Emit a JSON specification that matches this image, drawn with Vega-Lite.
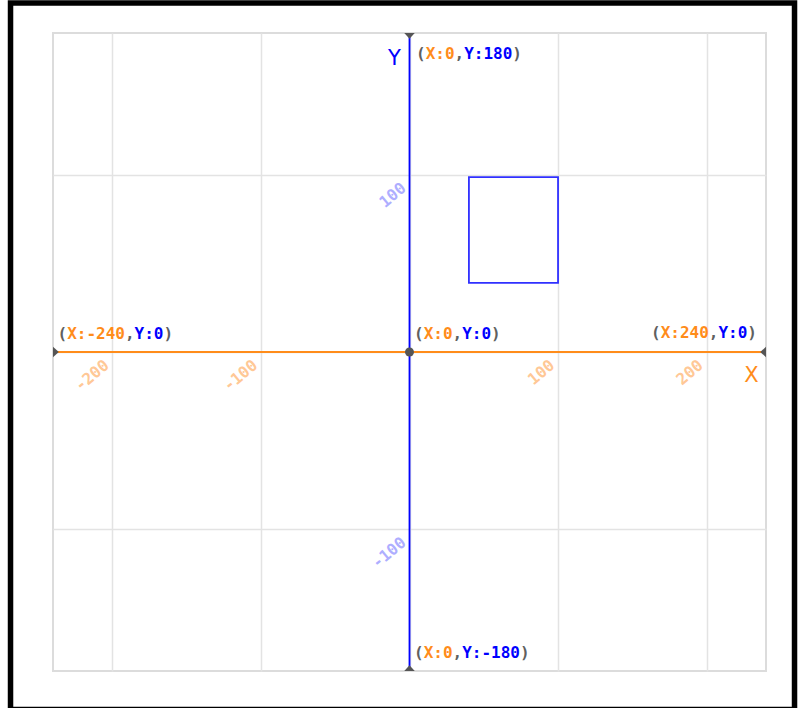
{
  "$schema": "https://vega.github.io/schema/vega-lite/v6.json",
  "width": 713,
  "height": 638,
  "autosize": "none",
  "padding": {"left": 53, "top": 33, "right": 34, "bottom": 37},
  "background": "white",
  "config": {"view": {"stroke": "#dcdcdc", "strokeWidth": 2}},
  "resolve": {"scale": {"color": "independent", "shape": "independent"}},
  "datasets": {
    "frame": [{"x": -268.6, "x2": 259.2, "y": 196.9, "y2": -201.7}],
    "square": [{"x": 40, "x2": 100, "y": 39, "y2": 98.7}],
    "axes": [
      {"axis": "x", "x": -240, "x2": 240, "y": 0, "y2": 0},
      {"axis": "y", "x": 0, "x2": 0, "y": -180, "y2": 180}
    ],
    "ends": [
      {"dir": "top", "x": 0, "y": 180},
      {"dir": "bottom", "x": 0, "y": -180},
      {"dir": "left", "x": -240, "y": 0},
      {"dir": "right", "x": 240, "y": 0}
    ],
    "origin": [{"x": 0, "y": 0}],
    "ticks": [
      {"axis": "x", "x": -200, "y": 0, "label": "-200"},
      {"axis": "x", "x": -100, "y": 0, "label": "-100"},
      {"axis": "x", "x": 100, "y": 0, "label": "100"},
      {"axis": "x", "x": 200, "y": 0, "label": "200"},
      {"axis": "y", "x": 0, "y": 100, "label": "100"},
      {"axis": "y", "x": 0, "y": -100, "label": "-100"}
    ],
    "coords": [
      {"grp": "top", "x": 0, "y": 180, "paren": "\u200b(\u00a0\u00a0\u00a0,\u00a0\u00a0\u00a0\u00a0\u00a0)\u200b", "xs": "\u200b\u00a0X:0\u00a0\u00a0\u00a0\u00a0\u00a0\u00a0\u00a0\u200b", "ys": "\u200b\u00a0\u00a0\u00a0\u00a0\u00a0Y:180\u00a0\u200b"},
      {"grp": "low", "x": 0, "y": 0, "paren": "\u200b(\u00a0\u00a0\u00a0,\u00a0\u00a0\u00a0)\u200b", "xs": "\u200b\u00a0X:0\u00a0\u00a0\u00a0\u00a0\u00a0\u200b", "ys": "\u200b\u00a0\u00a0\u00a0\u00a0\u00a0Y:0\u00a0\u200b"},
      {"grp": "low", "x": -240, "y": 0, "paren": "\u200b(\u00a0\u00a0\u00a0\u00a0\u00a0\u00a0,\u00a0\u00a0\u00a0)\u200b", "xs": "\u200b\u00a0X:-240\u00a0\u00a0\u00a0\u00a0\u00a0\u200b", "ys": "\u200b\u00a0\u00a0\u00a0\u00a0\u00a0\u00a0\u00a0\u00a0Y:0\u00a0\u200b"},
      {"grp": "right", "x": 240, "y": 0, "paren": "\u200b(\u00a0\u00a0\u00a0\u00a0\u00a0,\u00a0\u00a0\u00a0)\u200b", "xs": "\u200b\u00a0X:240\u00a0\u00a0\u00a0\u00a0\u00a0\u200b", "ys": "\u200b\u00a0\u00a0\u00a0\u00a0\u00a0\u00a0\u00a0Y:0\u00a0\u200b"},
      {"grp": "low", "x": 0, "y": -180, "paren": "\u200b(\u00a0\u00a0\u00a0,\u00a0\u00a0\u00a0\u00a0\u00a0\u00a0)\u200b", "xs": "\u200b\u00a0X:0\u00a0\u00a0\u00a0\u00a0\u00a0\u00a0\u00a0\u00a0\u200b", "ys": "\u200b\u00a0\u00a0\u00a0\u00a0\u00a0Y:-180\u00a0\u200b"}
    ],
    "names": [
      {"name": "X", "x": 240, "y": 0},
      {"name": "Y", "x": 0, "y": 180}
    ]
  },
  "layer": [
    {
      "data": {"name": "frame"},
      "mark": {"type": "rect", "fillOpacity": 0, "stroke": "black", "strokeWidth": 5.5},
      "encoding": {
        "x": {"field": "x", "type": "quantitative", "scale": {"domain": [-240, 240], "nice": false, "zero": false},
              "axis": {"values": [-200, -100, 0, 100, 200], "grid": true, "gridColor": "#e3e3e3", "gridWidth": 1.5, "labels": false, "ticks": false, "domain": false, "title": null}},
        "x2": {"field": "x2"},
        "y": {"field": "y", "type": "quantitative", "scale": {"domain": [-180, 180], "nice": false, "zero": false},
              "axis": {"values": [-100, 0, 100], "grid": true, "gridColor": "#e3e3e3", "gridWidth": 1.5, "labels": false, "ticks": false, "domain": false, "title": null}},
        "y2": {"field": "y2"}
      }
    },
    {
      "data": {"name": "square"},
      "mark": {"type": "rect", "fillOpacity": 0, "stroke": "#3030ff", "strokeWidth": 1.8},
      "encoding": {
        "x": {"field": "x", "type": "quantitative"},
        "x2": {"field": "x2"},
        "y": {"field": "y", "type": "quantitative"},
        "y2": {"field": "y2"}
      }
    },
    {
      "data": {"name": "axes"},
      "mark": {"type": "rule", "strokeWidth": 1.8},
      "encoding": {
        "x": {"field": "x", "type": "quantitative"},
        "x2": {"field": "x2"},
        "y": {"field": "y", "type": "quantitative"},
        "y2": {"field": "y2"},
        "color": {"field": "axis", "type": "nominal", "scale": {"domain": ["x", "y"], "range": ["#ff8c1a", "#0000ff"]}, "legend": null}
      }
    },
    {
      "data": {"name": "ends"},
      "mark": {"type": "point", "filled": true, "color": "#555555", "opacity": 1, "size": 110},
      "encoding": {
        "x": {"field": "x", "type": "quantitative"},
        "y": {"field": "y", "type": "quantitative"},
        "shape": {"field": "dir", "type": "nominal", "legend": null,
                  "scale": {"domain": ["top", "bottom", "left", "right"],
                            "range": ["M-1,0L1,0L0,1.1Z", "M-1,0L1,0L0,-1.1Z", "M0,-1L0,1L1.1,0Z", "M0,-1L0,1L-1.1,0Z"]}}
      }
    },
    {
      "data": {"name": "origin"},
      "mark": {"type": "point", "filled": true, "shape": "circle", "color": "#555555", "opacity": 1, "size": 80},
      "encoding": {
        "x": {"field": "x", "type": "quantitative"},
        "y": {"field": "y", "type": "quantitative"}
      }
    },
    {
      "data": {"name": "ticks"},
      "mark": {"type": "text", "font": "DejaVu Sans Mono", "fontWeight": "bold", "fontSize": 16, "angle": 320, "align": "right", "baseline": "alphabetic", "dx": -11.5, "dy": 10},
      "encoding": {
        "x": {"field": "x", "type": "quantitative"},
        "y": {"field": "y", "type": "quantitative"},
        "text": {"field": "label"},
        "color": {"field": "axis", "type": "nominal", "scale": {"domain": ["x", "y"], "range": ["#ffc896", "#aeaeff"]}, "legend": null}
      }
    },
    {
      "data": {"name": "coords"},
      "transform": [{"filter": "datum.grp == 'top'"}],
      "layer": [
        {"mark": {"type": "text", "font": "DejaVu Sans Mono", "fontWeight": "bold", "fontSize": 16, "align": "left", "baseline": "alphabetic", "dx": 6.5, "dy": 26, "color": "#606060"},
         "encoding": {"x": {"field": "x", "type": "quantitative"}, "y": {"field": "y", "type": "quantitative"}, "text": {"field": "paren"}}},
        {"mark": {"type": "text", "font": "DejaVu Sans Mono", "fontWeight": "bold", "fontSize": 16, "align": "left", "baseline": "alphabetic", "dx": 6.5, "dy": 26, "color": "#ff8c1a"},
         "encoding": {"x": {"field": "x", "type": "quantitative"}, "y": {"field": "y", "type": "quantitative"}, "text": {"field": "xs"}}},
        {"mark": {"type": "text", "font": "DejaVu Sans Mono", "fontWeight": "bold", "fontSize": 16, "align": "left", "baseline": "alphabetic", "dx": 6.5, "dy": 26, "color": "#0000ff"},
         "encoding": {"x": {"field": "x", "type": "quantitative"}, "y": {"field": "y", "type": "quantitative"}, "text": {"field": "ys"}}}
      ]
    },
    {
      "data": {"name": "coords"},
      "transform": [{"filter": "datum.grp == 'low'"}],
      "layer": [
        {"mark": {"type": "text", "font": "DejaVu Sans Mono", "fontWeight": "bold", "fontSize": 16, "align": "left", "baseline": "alphabetic", "dx": 4.5, "dy": -13.5, "color": "#606060"},
         "encoding": {"x": {"field": "x", "type": "quantitative"}, "y": {"field": "y", "type": "quantitative"}, "text": {"field": "paren"}}},
        {"mark": {"type": "text", "font": "DejaVu Sans Mono", "fontWeight": "bold", "fontSize": 16, "align": "left", "baseline": "alphabetic", "dx": 4.5, "dy": -13.5, "color": "#ff8c1a"},
         "encoding": {"x": {"field": "x", "type": "quantitative"}, "y": {"field": "y", "type": "quantitative"}, "text": {"field": "xs"}}},
        {"mark": {"type": "text", "font": "DejaVu Sans Mono", "fontWeight": "bold", "fontSize": 16, "align": "left", "baseline": "alphabetic", "dx": 4.5, "dy": -13.5, "color": "#0000ff"},
         "encoding": {"x": {"field": "x", "type": "quantitative"}, "y": {"field": "y", "type": "quantitative"}, "text": {"field": "ys"}}}
      ]
    },
    {
      "data": {"name": "coords"},
      "transform": [{"filter": "datum.grp == 'right'"}],
      "layer": [
        {"mark": {"type": "text", "font": "DejaVu Sans Mono", "fontWeight": "bold", "fontSize": 16, "align": "right", "baseline": "alphabetic", "dx": -9, "dy": -14, "color": "#606060"},
         "encoding": {"x": {"field": "x", "type": "quantitative"}, "y": {"field": "y", "type": "quantitative"}, "text": {"field": "paren"}}},
        {"mark": {"type": "text", "font": "DejaVu Sans Mono", "fontWeight": "bold", "fontSize": 16, "align": "right", "baseline": "alphabetic", "dx": -9, "dy": -14, "color": "#ff8c1a"},
         "encoding": {"x": {"field": "x", "type": "quantitative"}, "y": {"field": "y", "type": "quantitative"}, "text": {"field": "xs"}}},
        {"mark": {"type": "text", "font": "DejaVu Sans Mono", "fontWeight": "bold", "fontSize": 16, "align": "right", "baseline": "alphabetic", "dx": -9, "dy": -14, "color": "#0000ff"},
         "encoding": {"x": {"field": "x", "type": "quantitative"}, "y": {"field": "y", "type": "quantitative"}, "text": {"field": "ys"}}}
      ]
    },
    {
      "data": {"name": "names"},
      "transform": [{"filter": "datum.name == 'X'"}],
      "mark": {"type": "text", "font": "DejaVu Sans", "fontSize": 21, "align": "center", "baseline": "alphabetic", "dx": -14.5, "dy": 30, "color": "#ff8c1a"},
      "encoding": {"x": {"field": "x", "type": "quantitative"}, "y": {"field": "y", "type": "quantitative"}, "text": {"field": "name"}}
    },
    {
      "data": {"name": "names"},
      "transform": [{"filter": "datum.name == 'Y'"}],
      "mark": {"type": "text", "font": "DejaVu Sans", "fontSize": 21, "align": "center", "baseline": "alphabetic", "dx": -15, "dy": 32, "color": "#0000ff"},
      "encoding": {"x": {"field": "x", "type": "quantitative"}, "y": {"field": "y", "type": "quantitative"}, "text": {"field": "name"}}
    }
  ]
}
